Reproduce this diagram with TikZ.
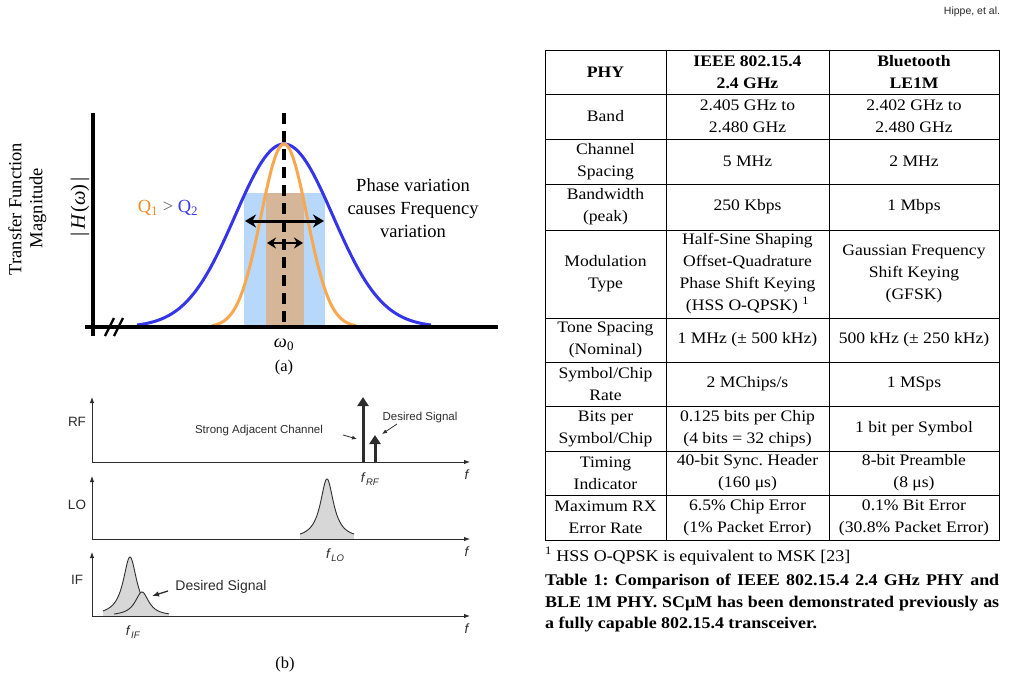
\documentclass[tikz,border=0pt]{standalone}
\usepackage{fontspec}
\setmainfont{Liberation Serif}
\newfontfamily\tabfont[FakeStretch=1.1]{Liberation Serif}
\newfontfamily\sansf{Liberation Sans}
\usetikzlibrary{arrows.meta}
\definecolor{cblue}{RGB}{52,52,235}
\definecolor{corange}{RGB}{250,168,80}
\definecolor{qorange}{RGB}{240,140,40}
\definecolor{qblue}{RGB}{60,60,230}
\definecolor{rblue}{RGB}{183,216,250}
\definecolor{rbrown}{RGB}{214,182,152}
\definecolor{pkfill}{RGB}{215,215,215}
\definecolor{axgray}{RGB}{45,45,45}
\newcommand\fsubl[1]{\textit{f}\kern0.3pt\raisebox{-0.45ex}{\fontsize{9.5}{9.5}\selectfont\textit{#1}}}
\frenchspacing
\begin{document}
\begin{tikzpicture}[x=1pt,y=-1pt,
  tabline/.style={line width=0.9pt,black},
  tabcell/.style={font=\tabfont\fontsize{16}{22}\selectfont,align=center,inner sep=0pt},
  tabhead/.style={font=\tabfont\bfseries\fontsize{16}{22}\selectfont,align=center,inner sep=0pt},
  captxt/.style={font=\tabfont\bfseries\fontsize{16.3}{21.5}\selectfont,inner sep=0pt},
  foottxt/.style={font=\tabfont\fontsize{16.3}{20}\selectfont,inner sep=0pt},
  atxt/.style={font=\fontsize{18.5}{23}\selectfont,align=center,inner sep=0pt},
  thickaxis/.style={line width=3.2pt,black},
  dblarrow/.style={line width=3pt,{Stealth[length=11pt,width=13pt]}-{Stealth[length=11pt,width=13pt]}},
  smallarrow/.style={line width=2.6pt,{Stealth[length=9pt,width=11pt]}-{Stealth[length=9pt,width=11pt]}},
  baxis/.style={line width=0.9pt,axgray,-{Latex[length=6pt,width=4.5pt]}},
  spike/.style={line width=3pt,axgray,-{Triangle[length=9pt,width=11pt]}},
  lblarrow/.style={line width=0.8pt,axgray,-{Latex[length=5pt,width=4pt]}},
  btxt/.style={font=\sansf\fontsize{11.5}{13}\selectfont,text=axgray,inner sep=0pt},
  blbl/.style={font=\sansf\fontsize{13.5}{15}\selectfont,text=axgray,inner sep=0pt},
  peakline/.style={line width=0.9pt,axgray},
]
\useasboundingbox (0,0) rectangle (1018,681);
\fill[white] (0,0) rectangle (1018,681);

% header
\node[font=\sansf\fontsize{10.5}{12}\selectfont,inner sep=0pt,text=black!85] (hdr) at (972,12) {Hippe, et al.};

% ---------- figure (a) ----------
\fill[rblue] (244,193) rectangle (325,327);
\fill[rbrown] (266,193) rectangle (304,327);
\draw[line width=3pt,cblue] plot[domain=137:431,samples=160] (\x,{327-183*exp(-((\x-284)/49)*((\x-284)/49)/2)});
\draw[line width=3pt,corange] plot[domain=212:356,samples=120] (\x,{327-183*exp(-((\x-284)/23)*((\x-284)/23)/2)});
\draw[thickaxis] (93,113) -- (93,336);
\draw[thickaxis] (85,327) -- (498,327);
\draw[line width=2.4pt] (105,336) -- (114,318);
\draw[line width=2.4pt] (114,336) -- (123,318);
\draw[line width=3.2pt,dash pattern=on 11pt off 7pt] (284,113) -- (284,327);
\coordinate (a1l) at (245,221); \coordinate (a1r) at (324,221);
\coordinate (a2l) at (267,243); \coordinate (a2r) at (303,243);
\draw[dblarrow] (a1l) -- (a1r);
\draw[smallarrow] (a2l) -- (a2r);
\node[atxt,rotate=90] (tf) at (15,209) {Transfer Function};
\node[atxt,rotate=90] (mag) at (38,208) {Magnitude};
\node[atxt,rotate=90,font=\fontsize{20.5}{23}\selectfont] (hw) at (80,207) {|\,\textit{H}\kern1pt(\textit{ω})\,|};
\node[atxt] (qq) at (168,208) {\textcolor{qorange}{Q\textsubscript{1}} \textcolor{black!60}{>} \textcolor{qblue}{Q\textsubscript{2}}};
\node[atxt] (phase) at (413,208) {Phase variation\\causes Frequency\\variation};
\node[atxt] (w0) at (284,345) {\textit{ω}\textsubscript{0}};
\node[atxt,font=\fontsize{16.5}{20}\selectfont] (la) at (284,368) {(a)};

% ---------- figure (b) ----------
% RF
\draw[baxis] (92,462) -- (92,397);
\draw[baxis] (92,462) -- (470,462);
\coordinate (s1b) at (363,462); \coordinate (s1t) at (363,397);
\coordinate (s2b) at (375,462); \coordinate (s2t) at (375,435);
\draw[spike] (s1b) -- (s1t);
\draw[spike] (s2b) -- (s2t);
\node[blbl] (rf) at (77,422) {RF};
\node[blbl] (frf) at (467,475) {\textit{f}};
\node[blbl] (frfl) at (370,479) {\fsubl{RF}};
\node[btxt] (sac) at (259,431) {Strong Adjacent Channel};
\node[btxt] (ds1) at (420,418) {Desired Signal};
\coordinate (aa1) at (343,435); \coordinate (aa2) at (357,439);
\coordinate (ab1) at (397,424); \coordinate (ab2) at (382,434);
\draw[lblarrow] (aa1) -- (aa2);
\draw[lblarrow] (ab1) -- (ab2);
% LO
\fill[pkfill] (300,539) -- plot[domain=300:354,samples=120] (\x,{539-60/(1+((\x-327)/8.1)*((\x-327)/8.1))}) -- (354,539) -- cycle;
\draw[peakline] plot[domain=300:354,samples=120] (\x,{539-60/(1+((\x-327)/8.1)*((\x-327)/8.1))});
\draw[baxis] (92,539) -- (92,476);
\draw[baxis] (92,539) -- (470,539);
\node[blbl] (lo) at (77,505) {LO};
\node[blbl] (flo) at (467,552) {\textit{f}};
\node[blbl] (flol) at (335,555) {\fsubl{LO}};
% IF
\fill[pkfill] (103,616) -- plot[domain=103:158,samples=120] (\x,{616-59/(1+((\x-130)/8.3)*((\x-130)/8.3))}) -- (158,616) -- cycle;
\draw[peakline] plot[domain=103:150,samples=120] (\x,{616-59/(1+((\x-130)/8.3)*((\x-130)/8.3))});
\fill[pkfill] (114,616) -- plot[domain=114:169,samples=120] (\x,{616-24/(1+((\x-142)/8.4)*((\x-142)/8.4))}) -- (169,616) -- cycle;
\draw[peakline] plot[domain=114:169,samples=120] (\x,{616-24/(1+((\x-142)/8.4)*((\x-142)/8.4))});
\draw[baxis] (92,616) -- (92,552);
\draw[baxis] (92,616) -- (470,616);
\node[blbl] (if) at (77,580) {IF};
\node[blbl] (fif) at (467,629) {\textit{f}};
\node[blbl] (fifl) at (133,632) {\fsubl{IF}};
\node[btxt,font=\sansf\fontsize{14}{16}\selectfont] (ds2) at (221,587) {Desired Signal};
\coordinate (ac1) at (168,591); \coordinate (ac2) at (152,596);
\draw[lblarrow,line width=1.3pt,-{Latex[length=7pt,width=5.5pt]}] (ac1) -- (ac2);
\node[atxt,font=\fontsize{16.5}{20}\selectfont] (lb) at (285,665) {(b)};

% ---------- table ----------
\draw[tabline] (545,50) rectangle (999,540);
\foreach \yy in {94,139,184,230,318,362,406,451,495} \draw[tabline] (545,\yy) -- (999,\yy);
\draw[tabline] (666,50) -- (666,540);
\draw[tabline] (829,50) -- (829,540);

\node[tabhead] (h1) at (605.5,72) {PHY};
\node[tabhead] (h2) at (747.5,72) {IEEE 802.15.4\\2.4 GHz};
\node[tabhead] (h3) at (914,72) {Bluetooth\\LE1M};

\node[tabcell] (b1) at (605.5,116.5) {Band};
\node[tabcell] (b2) at (747.5,116.5) {2.405 GHz to\\2.480 GHz};
\node[tabcell] (b3) at (914,116.5) {2.402 GHz to\\2.480 GHz};

\node[tabcell] (c1) at (605.5,161.5) {Channel\\Spacing};
\node[tabcell] (c2) at (747.5,161.5) {5 MHz};
\node[tabcell] (c3) at (914,161.5) {2 MHz};

\node[tabcell] (w1) at (605.5,207) {Bandwidth\\(peak)};
\node[tabcell] (w2) at (747.5,207) {250 Kbps};
\node[tabcell] (w3) at (914,207) {1 Mbps};

\node[tabcell] (m1) at (605.5,274) {Modulation\\Type};
\node[tabcell] (m2) at (747.5,274) {Half-Sine Shaping\\Offset-Quadrature\\Phase Shift Keying\\(HSS O-QPSK) \textsuperscript{1}};
\node[tabcell] (m3) at (914,274) {Gaussian Frequency\\Shift Keying\\(GFSK)};

\node[tabcell] (t1) at (605.5,340) {Tone Spacing\\(Nominal)};
\node[tabcell] (t2) at (747.5,340) {1 MHz (± 500 kHz)};
\node[tabcell] (t3) at (914,340) {500 kHz (± 250 kHz)};

\node[tabcell] (s1) at (605.5,384) {Symbol/Chip\\Rate};
\node[tabcell] (s2) at (747.5,384) {2 MChips/s};
\node[tabcell] (s3) at (914,384) {1 MSps};

\node[tabcell] (p1) at (605.5,428.5) {Bits per\\Symbol/Chip};
\node[tabcell] (p2) at (747.5,428.5) {0.125 bits per Chip\\(4 bits = 32 chips)};
\node[tabcell] (p3) at (914,428.5) {1 bit per Symbol};

\node[tabcell] (i1) at (605.5,473) {Timing\\Indicator};
\node[tabcell] (i2) at (747.5,473) {40-bit Sync. Header\\(160 μs)};
\node[tabcell] (i3) at (914,473) {8-bit Preamble\\(8 μs)};

\node[tabcell] (e1) at (605.5,517.5) {Maximum RX\\Error Rate};
\node[tabcell] (e2) at (747.5,517.5) {6.5\% Chip Error\\(1\% Packet Error)};
\node[tabcell] (e3) at (914,517.5) {0.1\% Bit Error\\(30.8\% Packet Error)};

\node[foottxt,anchor=base west] (fn) at (545,561) {\textsuperscript{1} HSS O-QPSK is equivalent to MSK [23]};
\node[captxt,anchor=base west] (cap1) at (545,585.5) {\makebox[454pt][s]{Table 1: Comparison of IEEE 802.15.4 2.4 GHz PHY and}};
\node[captxt,anchor=base west] (cap2) at (545,607) {\makebox[454pt][s]{BLE 1M PHY. SCμM has been demonstrated previously as}};
\node[captxt,anchor=base west] (cap3) at (545,628.5) {a fully capable 802.15.4 transceiver.};
\end{tikzpicture}
\end{document}
